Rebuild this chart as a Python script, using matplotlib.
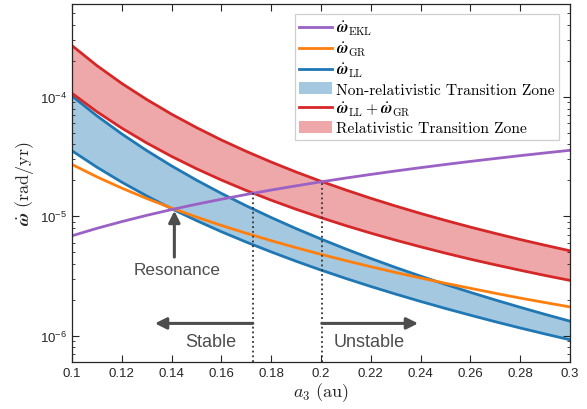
import math
import matplotlib
matplotlib.use('Agg')
import matplotlib.pyplot as plt
from matplotlib.lines import Line2D
from matplotlib.patches import Patch
from matplotlib.ticker import FixedLocator, LogLocator, FuncFormatter, NullFormatter

# ---- data (a3 in au, rates in rad/yr) ----
a3 = [0.10, 0.11, 0.12, 0.13, 0.14, 0.15, 0.16, 0.17, 0.18, 0.19, 0.20,
      0.21, 0.22, 0.23, 0.24, 0.25, 0.26, 0.27, 0.28, 0.29, 0.30]

w_ekl = [6.88e-6, 7.94e-6, 9.04e-6, 1.020e-5, 1.140e-5, 1.264e-5, 1.392e-5,
         1.525e-5, 1.662e-5, 1.802e-5, 1.946e-5, 2.094e-5, 2.245e-5,
         2.400e-5, 2.558e-5, 2.720e-5, 2.885e-5, 3.052e-5, 3.224e-5,
         3.398e-5, 3.575e-5]
w_gr = [2.72e-5, 2.143e-5, 1.724e-5, 1.412e-5, 1.173e-5, 9.87e-6, 8.40e-6,
        7.22e-6, 6.26e-6, 5.47e-6, 4.81e-6, 4.256e-6, 3.79e-6, 3.390e-6,
        3.05e-6, 2.752e-6, 2.50e-6, 2.271e-6, 2.07e-6, 1.899e-6, 1.745e-6]
w_ll_low = [3.54e-5, 2.580e-5, 1.933e-5, 1.483e-5, 1.159e-5, 9.22e-6,
            7.44e-6, 6.09e-6, 5.04e-6, 4.21e-6, 3.55e-6, 3.02e-6, 2.589e-6,
            2.234e-6, 1.940e-6, 1.694e-6, 1.488e-6, 1.312e-6, 1.163e-6,
            1.036e-6, 9.26e-7]
w_ll_high = [1.018e-4, 6.94e-5, 4.90e-5, 3.556e-5, 2.646e-5, 2.011e-5,
             1.557e-5, 1.225e-5, 9.78e-6, 7.90e-6, 6.46e-6, 5.33e-6,
             4.44e-6, 3.73e-6, 3.16e-6, 2.694e-6, 2.312e-6, 1.996e-6,
             1.733e-6, 1.512e-6, 1.326e-6]
w_llgr_low = [1.072e-4, 7.52e-5, 5.48e-5, 4.117e-5, 3.177e-5, 2.506e-5,
              2.015e-5, 1.647e-5, 1.366e-5, 1.147e-5, 9.75e-6, 8.36e-6,
              7.24e-6, 6.32e-6, 5.56e-6, 4.92e-6, 4.38e-6, 3.93e-6,
              3.54e-6, 3.20e-6, 2.91e-6]
w_llgr_high = [2.69e-4, 1.829e-4, 1.297e-4, 9.52e-5, 7.17e-5, 5.54e-5,
               4.36e-5, 3.50e-5, 2.85e-5, 2.352e-5, 1.966e-5, 1.662e-5,
               1.417e-5, 1.220e-5, 1.058e-5, 9.25e-6, 8.13e-6, 7.20e-6,
               6.40e-6, 5.73e-6, 5.15e-6]

# stability boundaries (where EKL meets the relativistic band)
a3_transition = [0.1726, 0.2003]
w_transition = [1.560e-5, 1.950e-5]

x_ticks = [0.10, 0.12, 0.14, 0.16, 0.18, 0.20, 0.22, 0.24, 0.26, 0.28, 0.30]
y_ticks = [1e-6, 1e-5, 1e-4]
y_lo, y_hi = 6.0e-7, 6.0e-4

c_ekl = '#9a62c4'
c_gr = '#ff7f0e'
c_ll = '#1f77b4'
c_rel = '#d62728'
c_txt = '#4d4d4d'

plt.rcParams['mathtext.fontset'] = 'custom'
plt.rcParams['mathtext.rm'] = 'Liberation Sans'
plt.rcParams['mathtext.it'] = 'Liberation Sans:italic'
plt.rcParams['mathtext.bf'] = 'Liberation Sans:bold'
plt.rcParams['font.family'] = ['Liberation Sans', 'DejaVu Sans']

fig = plt.figure(figsize=(5.87, 4.10), dpi=100)
ax = fig.add_axes([0.1227, 0.1139, 0.8483, 0.8739])

ax.fill_between(a3, w_ll_low, w_ll_high, color=c_ll, alpha=0.4, lw=0)
ax.fill_between(a3, w_llgr_low, w_llgr_high, color=c_rel, alpha=0.4, lw=0)
ax.plot(a3, w_ll_low, color=c_ll, lw=2)
ax.plot(a3, w_ll_high, color=c_ll, lw=2)
ax.plot(a3, w_llgr_low, color=c_rel, lw=2)
ax.plot(a3, w_llgr_high, color=c_rel, lw=2)
ax.plot(a3, w_gr, color=c_gr, lw=2)
ax.plot(a3, w_ekl, color=c_ekl, lw=2)

ax.vlines(a3_transition, y_lo, w_transition, colors='#333333',
          linestyles=':', lw=1.3)

ax.set_yscale('log')
ax.set_xlim(0.1, 0.3)
ax.set_ylim(y_lo, y_hi)

ax.xaxis.set_major_locator(FixedLocator(x_ticks))
ax.xaxis.set_major_formatter(FuncFormatter(lambda v, p: '%g' % v))
ax.yaxis.set_major_locator(FixedLocator(y_ticks))
ax.yaxis.set_major_formatter(FuncFormatter(
    lambda v, p: r'$10^{%d}$' % round(math.log10(v))))
ax.yaxis.set_minor_locator(LogLocator(base=10, subs=range(2, 10)))
ax.yaxis.set_minor_formatter(NullFormatter())
ax.tick_params(which='both', direction='in', top=True, right=True,
               colors='#262626', labelsize=9.5)
ax.tick_params(which='major', length=5, width=0.8)
ax.tick_params(which='minor', length=2.5, width=0.6)
for s in ax.spines.values():
    s.set_color('#262626')
    s.set_linewidth(0.9)

ax.set_xlabel(r'$\boldsymbol{a_3}\ \mathrm{(au)}$', fontsize=13,
              math_fontfamily='cm', color='#262626', labelpad=1)
ax.set_ylabel(r'$\dot{\boldsymbol{\omega}}\ \mathrm{(rad/yr)}$', fontsize=13,
              math_fontfamily='cm', color='#262626', labelpad=3)

# annotations
arw = dict(arrowstyle='-|>', color=c_txt, lw=2.2, mutation_scale=17,
           shrinkA=0, shrinkB=0)
ax.annotate('', xy=(0.1333, 1.27e-6), xytext=(0.1726, 1.27e-6), arrowprops=arw)
ax.annotate('', xy=(0.2390, 1.27e-6), xytext=(0.2003, 1.27e-6), arrowprops=arw)
ax.annotate('', xy=(0.1411, 1.113e-5), xytext=(0.1411, 4.56e-6), arrowprops=arw)
ax.text(0.1557, 9.0e-7, 'Stable', ha='center', va='center',
        fontsize=13, color=c_txt)
ax.text(0.2193, 9.0e-7, 'Unstable', ha='center', va='center',
        fontsize=13, color=c_txt)
ax.text(0.1421, 3.62e-6, 'Resonance', ha='center', va='center',
        fontsize=12.3, color=c_txt)

handles = [
    Line2D([], [], color=c_ekl, lw=2),
    Line2D([], [], color=c_gr, lw=2),
    Line2D([], [], color=c_ll, lw=2),
    Patch(facecolor=c_ll, alpha=0.4, lw=0),
    Line2D([], [], color=c_rel, lw=2),
    Patch(facecolor=c_rel, alpha=0.4, lw=0),
]
labels = [
    r'$\dot{\boldsymbol{\omega}}_{\mathrm{EKL}}$',
    r'$\dot{\boldsymbol{\omega}}_{\mathrm{GR}}$',
    r'$\dot{\boldsymbol{\omega}}_{\mathrm{LL}}$',
    'Non-relativistic Transition Zone',
    r'$\dot{\boldsymbol{\omega}}_{\mathrm{LL}}+\dot{\boldsymbol{\omega}}_{\mathrm{GR}}$',
    'Relativistic Transition Zone',
]
leg = ax.legend(handles, labels, loc='upper right',
                bbox_to_anchor=(0.978, 0.972), borderaxespad=0,
                prop={'family': 'cmr10', 'size': 11.2, 'math_fontfamily': 'cm'},
                handlelength=2.1, handleheight=0.85, handletextpad=0.25,
                labelspacing=0.18, borderpad=0.3, fancybox=False,
                framealpha=1, edgecolor='#cfcfcf')
leg.get_frame().set_linewidth(0.9)

fig.savefig('out.png', dpi=100)
